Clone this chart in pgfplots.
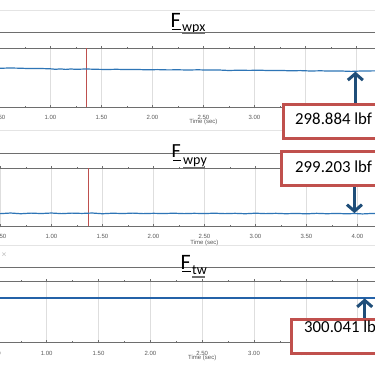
\documentclass[border=0pt]{standalone}
\usepackage{pgfplots}
\pgfplotsset{compat=1.18}
\usetikzlibrary{arrows.meta}
\usepackage{fontspec}
\setmainfont{Carlito}
\newfontfamily\tickfont{Liberation Sans}
\definecolor{dataBlue}{RGB}{46,117,182}
\definecolor{dataBlueD}{RGB}{36,98,168}
\definecolor{boxRed}{RGB}{192,80,77}
\definecolor{arrowBlue}{RGB}{31,78,121}
\definecolor{vRed}{RGB}{190,80,78}
\definecolor{gridGray}{RGB}{222,222,222}
\definecolor{axGray}{RGB}{110,110,110}
\definecolor{tickText}{RGB}{90,90,90}
\definecolor{sepGray}{RGB}{228,228,228}
\tikzset{arr/.style={arrowBlue, line width=3pt, -{Straight Barb[length=6.5pt,width=15pt]}}}
\pgfplotsset{
  panel/.style={
    scale only axis, xmin=0.2, xmax=4.8,
    ytick=\empty, xtick={0.5,1,...,4.5}, minor x tick num=1,
    tick align=center, major tick length=3pt, minor tick length=1.5pt,
    xmajorgrids, major grid style={gridGray, line width=0.6pt},
    axis line style={axGray, line width=0.6pt},
    every tick/.style={axGray, line width=0.6pt},
    xticklabel style={font=\tickfont\fontsize{6}{6}\selectfont, text=tickText, anchor=base, yshift=-11.5pt},
    /pgf/number format/fixed, /pgf/number format/fixed zerofill,
    /pgf/number format/precision=2, /pgf/number format/assume math mode=true,
    xlabel={Time (sec)},
    xlabel style={font=\tickfont\fontsize{6}{6}\selectfont, text=tickText, at={(axis description cs:0.5,0)}, anchor=base, yshift=-17pt},
  },
}
\begin{document}
\begin{tikzpicture}[x=1pt,y=1pt]
\fill[white] (0,0) rectangle (375,375);
\begin{scope}
\clip (0,0) rectangle (375,375);
% separator lines
\draw[sepGray, line width=0.8pt] (-5,365) -- (380,365);
\draw[sepGray, line width=0.8pt] (-5,245) -- (380,245);
\draw[sepGray, line width=0.8pt] (-5,130) -- (380,130);
% title band lines
\draw[axGray, line width=0.6pt] (-5,343) -- (380,343);
\draw[axGray, line width=0.6pt] (-5,222) -- (380,222);
\draw[axGray, line width=0.6pt] (-5,108) -- (380,108);

% Panel 1: F_wpx
\begin{axis}[panel, at={(-30.6,268)}, anchor=south west, width=469.2pt, height=59pt,
  ymin=295.324, ymax=301.224]
\addplot[vRed, line width=0.8pt] coordinates {(1.353,295.324) (1.353,301.224)};
\addplot[dataBlue, line width=1.2pt] coordinates {
(0.20,299.204) (0.30,299.204) (0.40,299.214) (0.50,299.194) (0.60,299.224) (0.70,299.204)
(0.80,299.164) (0.90,299.174) (1.00,299.144) (1.05,299.094) (1.10,299.134) (1.15,299.084)
(1.20,299.124) (1.25,299.094) (1.35,299.124) (1.45,299.094) (1.55,299.074) (1.65,299.094)
(1.75,299.064) (1.85,299.074) (1.95,299.044) (2.05,299.064) (2.15,299.034) (2.25,299.044)
(2.35,299.024) (2.45,299.044) (2.55,299.014) (2.65,299.024) (2.75,298.974) (2.85,299.004)
(2.95,298.984) (3.05,299.004) (3.15,298.964) (3.25,298.984) (3.35,298.944) (3.45,298.964)
(3.55,298.924) (3.65,298.944) (3.75,298.914) (3.85,298.924) (3.95,298.884) (4.05,298.924)
(4.15,298.934) (4.25,298.944) (4.40,298.934) (4.60,298.944) (4.80,298.934)};
\draw[arr] (axis cs:3.99,295.72) -- (axis cs:3.99,298.86);
\end{axis}

% Panel 2: F_wpy
\begin{axis}[panel, at={(-29.6,149)}, anchor=south west, width=469.2pt, height=58pt,
  ymin=297.953, ymax=303.753, xlabel style={yshift=-2pt}]
\addplot[vRed, line width=0.8pt] coordinates {(1.363,297.953) (1.363,303.753)};
\addplot[dataBlue, line width=1.2pt] coordinates {
(0.2,299.21) (0.3,299.17) (0.4,299.24) (0.5,299.19) (0.6,299.25) (0.7,299.18) (0.8,299.24)
(0.9,299.20) (1.0,299.25) (1.1,299.19) (1.2,299.24) (1.3,299.21) (1.4,299.25) (1.5,299.18)
(1.6,299.23) (1.7,299.20) (1.8,299.24) (1.9,299.19) (2.0,299.22) (2.1,299.20) (2.2,299.23)
(2.3,299.19) (2.4,299.22) (2.5,299.20) (2.6,299.23) (2.7,299.19) (2.8,299.22) (2.9,299.18)
(3.0,299.23) (3.1,299.19) (3.2,299.22) (3.3,299.18) (3.4,299.21) (3.5,299.17) (3.6,299.22)
(3.7,299.18) (3.8,299.21) (3.9,299.17) (3.97,299.203) (4.05,299.16) (4.15,299.21)
(4.25,299.17) (4.4,299.20) (4.6,299.18) (4.8,299.20)};
\draw[arr] (axis cs:3.971,301.853) -- (axis cs:3.971,299.24);
\end{axis}

% Panel 3: F_tw
\begin{axis}[panel, at={(-34.93,33)}, anchor=south west, width=476.9pt, height=61pt,
  ymin=295.641, ymax=301.741]
\addplot[dataBlueD, line width=1.3pt] coordinates {
(0.2,300.041) (1.0,300.041) (2.0,300.041) (3.0,300.041) (4.0,300.041) (4.8,300.041)};
\draw[arr] (axis cs:4.067,297.941) -- (axis cs:4.067,300.00);
\end{axis}

% titles
\node[anchor=base west, inner sep=0, font=\fontsize{22}{22}\selectfont] at (170.5,347) {F};
\draw[black, line width=1.6pt] (172,345.5) -- (180.5,345.5);
\node[anchor=base west, inner sep=0, font=\fontsize{14}{14}\selectfont] at (182,343.5) {wpx};
\draw[axGray, line width=1.2pt] (182,342) -- (205,342);

\node[anchor=base west, inner sep=0, font=\fontsize{20}{20}\selectfont] at (171.5,217) {F};
\draw[black, line width=1.6pt] (173,214.5) -- (181,214.5);
\node[anchor=base west, inner sep=0, font=\fontsize{14}{14}\selectfont] at (183,210) {wpy};
\draw[axGray, line width=1.2pt] (183,207.5) -- (205,207.5);

\node[anchor=base west, inner sep=0, font=\fontsize{22}{22}\selectfont] at (180.5,105) {F};
\draw[black, line width=1.6pt] (182,103.5) -- (190.5,103.5);
\node[anchor=base west, inner sep=0, font=\fontsize{14}{14}\selectfont] at (192,100) {tw};
\draw[axGray, line width=1.2pt] (192,98) -- (205,98);

\node[gray!55, font=\fontsize{9}{9}\selectfont] at (4,120) {×};

% value boxes
\draw[boxRed, line width=3pt, fill=white] (283.5,270.5) rectangle (400,236.5);
\node[anchor=base west, inner sep=0, font=\fontsize{16.8}{17}\selectfont] at (295,250) {298.884 lbf};
\draw[boxRed, line width=3pt, fill=white] (281.5,223.5) rectangle (400,189.5);
\node[anchor=base west, inner sep=0, font=\fontsize{16.8}{17}\selectfont] at (295,202) {299.203 lbf};
\draw[boxRed, line width=3pt, fill=white] (291.5,55) rectangle (400,21.5);
\node[anchor=base west, inner sep=0, font=\fontsize{16.8}{17}\selectfont] at (304,42) {300.041 lbf};
\end{scope}
\pgfresetboundingbox
\useasboundingbox (0,0) rectangle (375,375);
\end{tikzpicture}
\end{document}
